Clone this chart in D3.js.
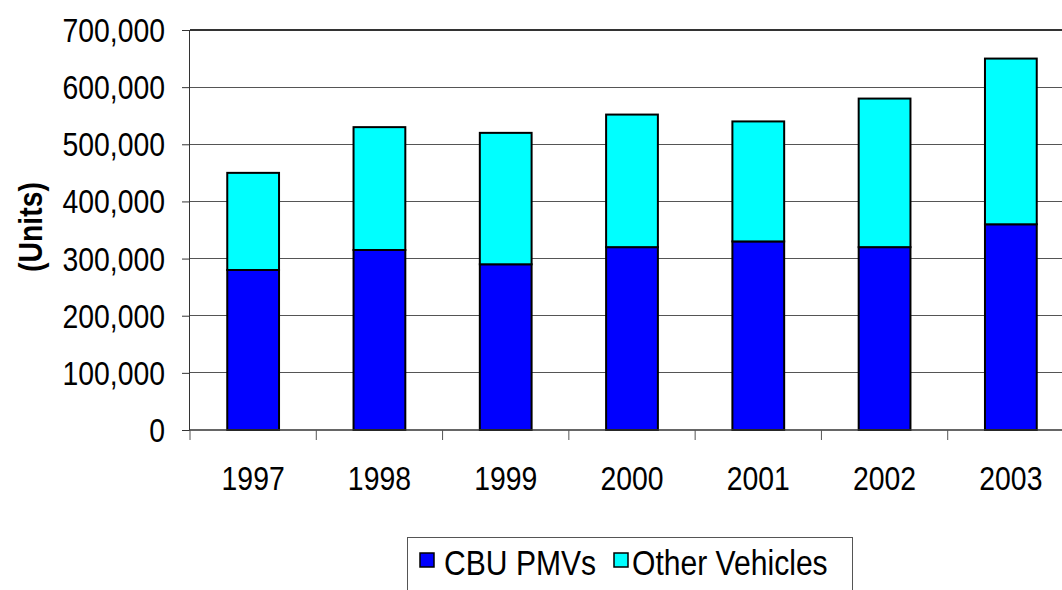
<!DOCTYPE html>
<html>
<head>
<meta charset="utf-8">
<script src="https://cdn.jsdelivr.net/npm/d3@7"></script>
<style>
  body { margin: 0; background: #fff; }
  svg { display: block; font-family: "Liberation Sans", Arial, sans-serif; }
</style>
</head>
<body>
<svg id="chart" width="1062" height="590"></svg>
<script>
// Data
const years = ["1997", "1998", "1999", "2000", "2001", "2002", "2003"];
const cbuPMVs = [280000, 315000, 290000, 320000, 330000, 320000, 360000];
const otherVehicles = [170000, 215000, 230000, 232000, 210000, 260000, 290000];
const seriesNames = ["CBU PMVs", "Other Vehicles"];
const seriesColors = ["#0000ff", "#00ffff"];
const yTicks = [0, 100000, 200000, 300000, 400000, 500000, 600000, 700000];

const rows = years.map((y, i) => ({ year: y, cbu: cbuPMVs[i], other: otherVehicles[i] }));
const stacked = d3.stack().keys(["cbu", "other"])(rows);

const plotLeft = 190, plotTop = 30, plotBottom = 430, plotRight = 1074;
const narrow = 0.86; // reference text is a condensed Arial
const fs = 33;

const x = d3.scaleBand().domain(years).range([plotLeft, plotRight]).paddingInner(0.59).paddingOuter(0.295);
const xEdges = d3.scaleBand().domain(years).range([plotLeft, plotRight]);
const y = d3.scaleLinear().domain([0, 700000]).range([plotBottom, plotTop]);

const svg = d3.select("#chart");

// gridlines
svg.append("g")
  .selectAll("line")
  .data(yTicks.filter(d => d > 0))
  .join("line")
  .attr("x1", plotLeft).attr("x2", 1062)
  .attr("y1", d => y(d)).attr("y2", d => y(d))
  .attr("stroke", d => d === 700000 ? "#333" : "#555")
  .attr("stroke-width", d => d === 700000 ? 1.5 : 1)
  .attr("shape-rendering", "crispEdges");

// bars
svg.append("g")
  .selectAll("g")
  .data(stacked)
  .join("g")
  .attr("fill", (d, i) => seriesColors[i])
  .selectAll("rect")
  .data(d => d)
  .join("rect")
  .attr("x", d => x(d.data.year))
  .attr("y", d => y(d[1]))
  .attr("width", x.bandwidth())
  .attr("height", d => y(d[0]) - y(d[1]))
  .attr("stroke", "#000")
  .attr("stroke-width", 2);

// y axis
const yAxis = svg.append("g")
  .attr("transform", `translate(${plotLeft},0)`)
  .call(d3.axisLeft(y).tickValues(yTicks).tickSize(8)
    .tickFormat(d3.format(",")));
yAxis.select(".domain").attr("stroke", "#333").attr("d", `M-0.5,${plotTop}V${plotBottom}`);
yAxis.selectAll(".tick line").attr("stroke", "#333");
yAxis.selectAll("text")
  .attr("x", null)
  .attr("dy", "0.35em")
  .attr("transform", `translate(-25,0) scale(${narrow},1)`)
  .attr("font-size", fs).attr("fill", "#000")
  .attr("font-family", "Liberation Sans, Arial, sans-serif");

// x axis
const xAxis = svg.append("g").attr("transform", `translate(0,${plotBottom})`);
xAxis.append("line").attr("x1", plotLeft).attr("x2", 1062).attr("stroke", "#333").attr("stroke-width", 1.5);
xAxis.selectAll(".xt")
  .data(years)
  .join("line")
  .attr("class", "xt")
  .attr("x1", d => xEdges(d)).attr("x2", d => xEdges(d))
  .attr("y1", 0).attr("y2", 10)
  .attr("stroke", "#555");
xAxis.selectAll("text")
  .data(years)
  .join("text")
  .attr("transform", d => `translate(${x(d) + x.bandwidth() / 2},60) scale(${narrow},1)`)
  .attr("text-anchor", "middle")
  .attr("font-size", fs)
  .text(d => d);

// axis title
svg.append("text")
  .attr("transform", `translate(42,227) rotate(-90) scale(${narrow},1)`)
  .attr("text-anchor", "middle")
  .attr("font-size", fs)
  .attr("font-weight", "bold")
  .text("(Units)");

// legend
const legend = svg.append("g");
legend.append("rect")
  .attr("x", 407.5).attr("y", 537.5).attr("width", 445).attr("height", 70)
  .attr("fill", "#fff").attr("stroke", "#555");
const items = [
  { name: seriesNames[0], color: seriesColors[0], sx: 420, tx: 444 },
  { name: seriesNames[1], color: seriesColors[1], sx: 614, tx: 632 }
];
legend.selectAll("rect.sw")
  .data(items)
  .join("rect")
  .attr("class", "sw")
  .attr("x", d => d.sx).attr("y", 553).attr("width", 14).attr("height", 14)
  .attr("fill", d => d.color).attr("stroke", "#000").attr("stroke-width", 1.5);
legend.selectAll("text")
  .data(items)
  .join("text")
  .attr("transform", d => `translate(${d.tx},575) scale(${narrow},1)`)
  .attr("font-size", 35)
  .text(d => d.name);
</script>
</body>
</html>
